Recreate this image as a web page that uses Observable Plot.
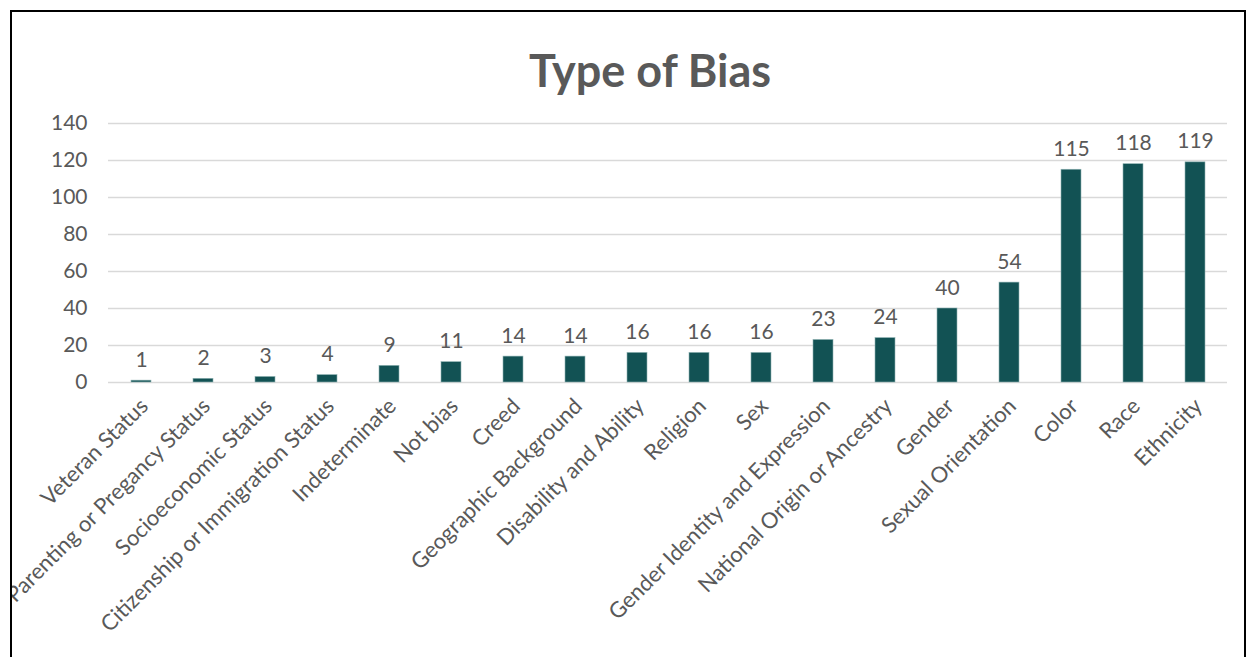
<!DOCTYPE html>
<html>
<head>
<meta charset="utf-8">
<script src="https://cdn.jsdelivr.net/npm/d3@7"></script>
<script src="https://cdn.jsdelivr.net/npm/@observablehq/plot@0.6"></script>
<style>
  html, body { margin: 0; padding: 0; background: #fff; }
  body { width: 1248px; height: 657px; overflow: hidden; position: relative; font-family: Lato, "Open Sans", sans-serif; }
  #frame { position: absolute; left: 10px; top: 10px; width: 1232px; height: 700px; border: 2px solid #000; overflow: hidden; background: #fff; }
  #title { position: absolute; left: 0; width: 1276px; top: 36px; text-align: center; font-size: 45px; font-weight: bold; color: #595959; margin: 0; line-height: 45px; }
  #chart { position: absolute; left: 0; top: 0; }
</style>
</head>
<body>
<div id="frame">
  <div id="title">Type of Bias</div>
  <div id="chart"></div>
</div>
<script>
const categories = ["Veteran Status", "Parenting or Pregancy Status", "Socioeconomic Status", "Citizenship or Immigration Status", "Indeterminate", "Not bias", "Creed", "Geographic Background", "Disability and Ability", "Religion", "Sex", "Gender Identity and Expression", "National Origin or Ancestry", "Gender", "Sexual Orientation", "Color", "Race", "Ethnicity"];
const counts = [1, 2, 3, 4, 9, 11, 14, 14, 16, 16, 16, 23, 24, 40, 54, 115, 118, 119];
const yTicks = [0, 20, 40, 60, 80, 100, 120, 140];

const data = categories.map((c, i) => ({category: c, count: counts[i]}));
const textColor = "#595959";

const chart = Plot.plot({
  width: 1232,
  height: 645,
  marginLeft: 96,
  marginRight: 17,
  marginTop: 111,
  marginBottom: 275,
  style: {fontFamily: "Lato, 'Open Sans', sans-serif", fontSize: "21px", color: textColor, background: "transparent"},
  x: {domain: categories, paddingInner: 0.68, paddingOuter: 0.34},
  y: {domain: [0, 140], ticks: yTicks},
  marks: [
    Plot.gridY(yTicks, {stroke: "#d9d9d9", strokeOpacity: 1, strokeWidth: 1.5}),
    Plot.axisY(yTicks, {tickSize: 0, tickPadding: 21, fontSize: 21, fill: textColor, label: null}),
    Plot.axisX({tickSize: 0, tickRotate: -45, tickPadding: 8, dx: 3, dy: 12, fontSize: 22, fill: textColor, label: null}),
    Plot.barY(data, {x: "category", y: "count", fill: "#125254", stroke: "#8fb3b3", strokeWidth: 0.6}),
    Plot.text(data, {x: "category", y: "count", text: d => String(d.count), dy: -14, lineAnchor: "bottom", fontSize: 21, fill: textColor})
  ]
});
document.getElementById("chart").appendChild(chart);
</script>
</body>
</html>
